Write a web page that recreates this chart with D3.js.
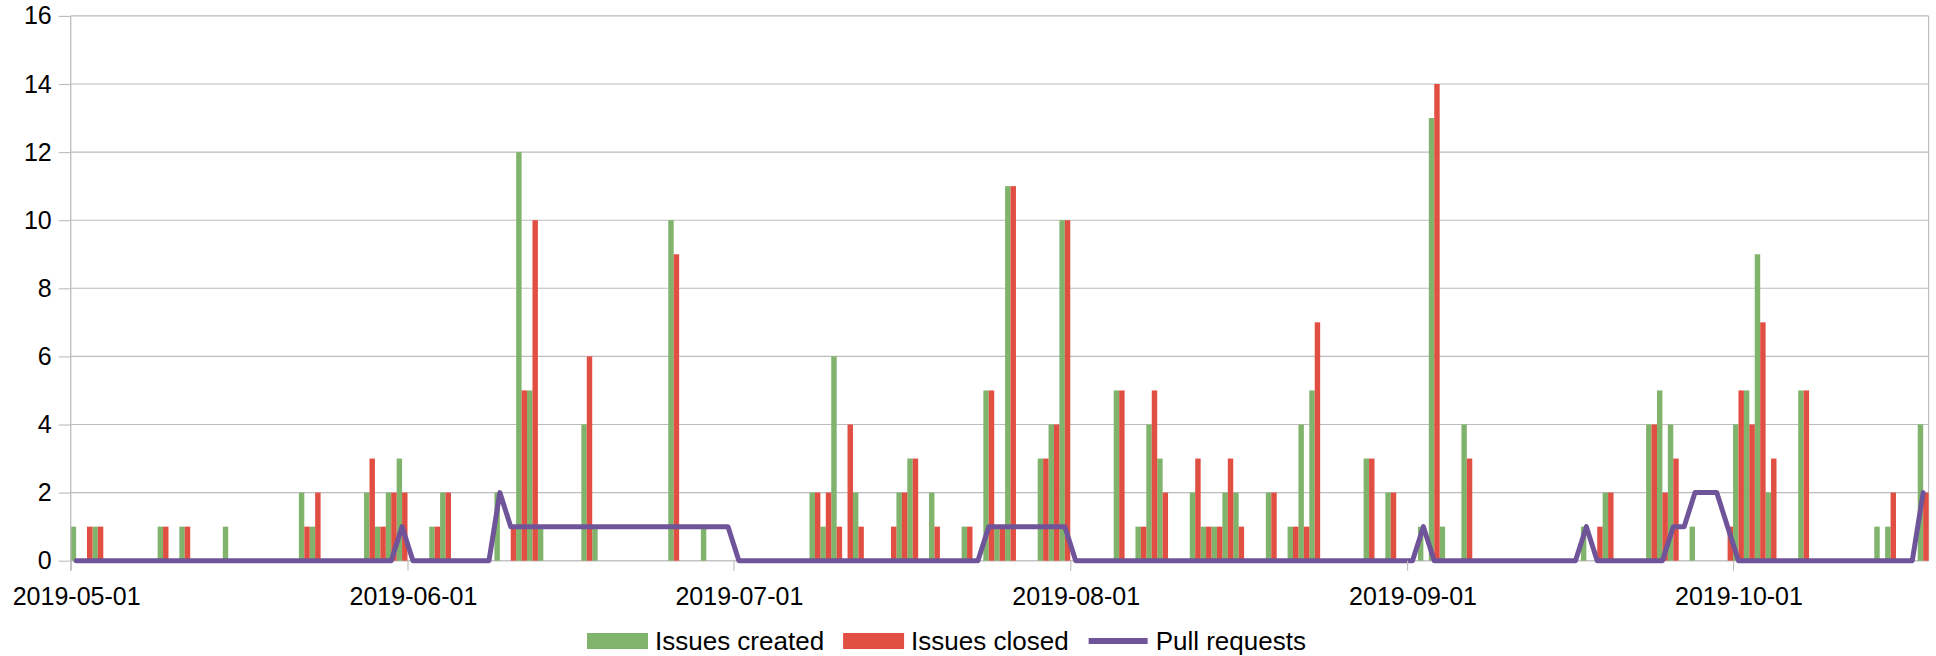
<!DOCTYPE html>
<html>
<head>
<meta charset="utf-8">
<script src="https://cdn.jsdelivr.net/npm/d3@7"></script>
<style>
    body { margin: 0; background: #fff; }
    text { font-family: "Liberation Sans", Arial, sans-serif; fill: #000; }
</style>
</head>
<body>
<script>
// daily counts, one value per day from 2019-05-01 to 2019-10-18 (rows = months)
var issuesCreated = [].concat(
    [1,0,1,0,0,0,0,0,1,0,1,0,0,0,1,0,0,0,0,0,0,2,1,0,0,0,0,2,1,2,3],
    [0,0,1,2,0,0,0,0,2,0,12,5,1,0,0,0,4,1,0,0,0,0,0,0,10,0,0,1,0,0],
    [0,0,0,0,0,0,0,2,1,6,0,2,0,0,0,2,3,0,2,0,0,1,0,5,1,11,0,0,3,4,10],
    [0,0,0,0,5,0,1,4,3,0,0,2,1,1,2,2,0,0,2,0,1,4,5,0,0,0,0,3,0,2,0],
    [0,1,13,1,0,4,0,0,0,0,0,0,0,0,0,0,1,0,2,0,0,0,4,5,4,0,1,0,0,0],
    [4,5,9,2,0,0,5,0,0,0,0,0,0,1,1,0,0,4]
);
var issuesClosed = [].concat(
    [0,1,1,0,0,0,0,0,1,0,1,0,0,0,0,0,0,0,0,0,0,1,2,0,0,0,0,3,1,2,2],
    [0,0,1,2,0,0,0,0,0,1,5,10,0,0,0,0,6,0,0,0,0,0,0,0,9,0,0,0,0,0],
    [0,0,0,0,0,0,0,2,2,1,4,1,0,0,1,2,3,0,1,0,0,1,0,5,1,11,0,0,3,4,10],
    [0,0,0,0,5,0,1,5,2,0,0,3,1,1,3,1,0,0,2,0,1,1,7,0,0,0,0,3,0,2,0],
    [0,0,14,0,0,3,0,0,0,0,0,0,0,0,0,0,0,1,2,0,0,0,4,2,3,0,0,0,0,1],
    [5,4,7,3,0,0,5,0,0,0,0,0,0,0,2,0,0,2]
);
var pullRequests = [].concat(
    [0,0,0,0,0,0,0,0,0,0,0,0,0,0,0,0,0,0,0,0,0,0,0,0,0,0,0,0,0,0,1],
    [0,0,0,0,0,0,0,0,2,1,1,1,1,1,1,1,1,1,1,1,1,1,1,1,1,1,1,1,1,1],
    [0,0,0,0,0,0,0,0,0,0,0,0,0,0,0,0,0,0,0,0,0,0,0,1,1,1,1,1,1,1,1],
    [0,0,0,0,0,0,0,0,0,0,0,0,0,0,0,0,0,0,0,0,0,0,0,0,0,0,0,0,0,0,0],
    [0,1,0,0,0,0,0,0,0,0,0,0,0,0,0,0,1,0,0,0,0,0,0,0,1,1,2,2,2,1],
    [0,0,0,0,0,0,0,0,0,0,0,0,0,0,0,0,0,2]
);
var seriesNames = ["Issues created", "Issues closed", "Pull requests"];
var seriesColors = ["#80b36c", "#e14e42", "#6f5499"];
var xTickLabels = ["2019-05-01", "2019-06-01", "2019-07-01", "2019-08-01", "2019-09-01", "2019-10-01"];
var yTicks = [0, 2, 4, 6, 8, 10, 12, 14, 16];

(function () {

    var parseDay = d3.timeParse("%Y-%m-%d"),
        fmtDay = d3.timeFormat("%Y-%m-%d");
    var startDay = parseDay("2019-05-01");
    var days = d3.timeDay.range(startDay, d3.timeDay.offset(startDay, issuesCreated.length)).map(fmtDay);

    var width = 1936, height = 656,
        plotLeft = 70.7, plotRight = 1928.6, plotTop = 15.9, plotBottom = 560.7;

    var svg = d3.select("body").append("svg")
        .attr("width", width)
        .attr("height", height);

    svg.append("rect").attr("width", width).attr("height", height).attr("fill", "#fff");

    var x = d3.scaleBand().domain(days).range([plotLeft, plotRight]).padding(0);
    var xSub = d3.scaleBand().domain([0, 1]).range([0, x.bandwidth()]).padding(0);
    var xTime = d3.scaleTime()
        .domain([startDay, d3.timeDay.offset(startDay, days.length)])
        .range([plotLeft, plotRight]);
    var y = d3.scaleLinear().domain([0, 16]).range([plotBottom, plotTop]);

    // grid
    svg.append("g").selectAll("line")
        .data(yTicks)
        .enter().append("line")
        .attr("x1", plotLeft).attr("x2", plotRight)
        .attr("y1", function (d) { return y(d); })
        .attr("y2", function (d) { return y(d); })
        .attr("stroke", function (d) { return d == 0 ? "#c4c4c4" : "#bcbcbc"; })
        .attr("stroke-width", function (d) { return d == 0 ? 1.6 : 1.1; });

    // right frame line
    svg.append("line")
        .attr("x1", plotRight).attr("x2", plotRight).attr("y1", plotTop).attr("y2", plotBottom)
        .attr("stroke", "#bcbcbc").attr("stroke-width", 1.1);

    // bars (skip the zero days)
    var barData = [issuesCreated, issuesClosed];
    barData.forEach(function (vals, s) {
        var pts = vals.map(function (v, i) { return { day: days[i], value: v }; })
            .filter(function (d) { return d.value > 0; });
        svg.append("g").selectAll("rect")
            .data(pts)
            .enter().append("rect")
            .attr("x", function (d) { return x(d.day) + xSub(s); })
            .attr("width", xSub.bandwidth())
            .attr("y", function (d) { return y(d.value); })
            .attr("height", function (d) { return y(0) - y(d.value); })
            .attr("fill", seriesColors[s]);
    });

    // pull request line
    var line = d3.line()
        .x(function (d, i) { return x(days[i]) + x.bandwidth() / 2; })
        .y(function (d) { return y(d); });

    svg.append("path")
        .datum(pullRequests)
        .attr("d", line)
        .attr("fill", "none")
        .attr("stroke", seriesColors[2])
        .attr("stroke-width", 5)
        .attr("stroke-linejoin", "round")
        .attr("stroke-linecap", "round");

    // y axis
    var yAxis = d3.axisLeft(y).tickValues(yTicks).tickSize(12).tickPadding(7);
    var gy = svg.append("g")
        .attr("transform", "translate(" + plotLeft + ",0)")
        .call(yAxis);
    gy.select(".domain").remove();
    gy.selectAll(".tick line").attr("stroke", "#bcbcbc").attr("stroke-width", 1.1);
    gy.selectAll("text").style("font-size", "25px").attr("fill", "#000");

    svg.append("line")
        .attr("x1", plotLeft).attr("x2", plotLeft).attr("y1", plotTop).attr("y2", plotBottom + 10)
        .attr("stroke", "#bcbcbc").attr("stroke-width", 1.3);

    // x axis
    var xAxis = d3.axisBottom(xTime)
        .tickValues(xTickLabels.map(parseDay))
        .tickFormat(fmtDay)
        .tickSize(10);
    var gx = svg.append("g")
        .attr("transform", "translate(0," + plotBottom + ")")
        .call(xAxis);
    gx.select(".domain").remove();
    gx.selectAll(".tick line").attr("stroke", "#bcbcbc").attr("stroke-width", 1.1);
    gx.selectAll("text")
        .attr("x", x.bandwidth() / 2)
        .attr("y", 44.3)
        .attr("dy", 0)
        .style("font-size", "25px")
        .attr("fill", "#000");

    // legend
    var legend = svg.append("g").attr("class", "legend");
    var lx = 587, ly = 641;
    seriesNames.forEach(function (name, i) {
        var item = legend.append("g").attr("transform", "translate(" + lx + "," + ly + ")");
        if (i < 2) {
            item.append("rect")
                .attr("x", 0).attr("y", -8).attr("width", 61).attr("height", 16)
                .attr("fill", seriesColors[i]);
        } else {
            item.append("line")
                .attr("x1", 1).attr("x2", 60).attr("y1", 0).attr("y2", 0)
                .attr("stroke", seriesColors[i]).attr("stroke-width", 6);
        }
        var t = item.append("text")
            .attr("x", 68)
            .attr("y", 0)
            .attr("dy", "0.35em")
            .style("font-size", "26px")
            .text(name);
        lx += 68 + t.node().getComputedTextLength() + 19;
    });

})();
</script>
</body>
</html>
